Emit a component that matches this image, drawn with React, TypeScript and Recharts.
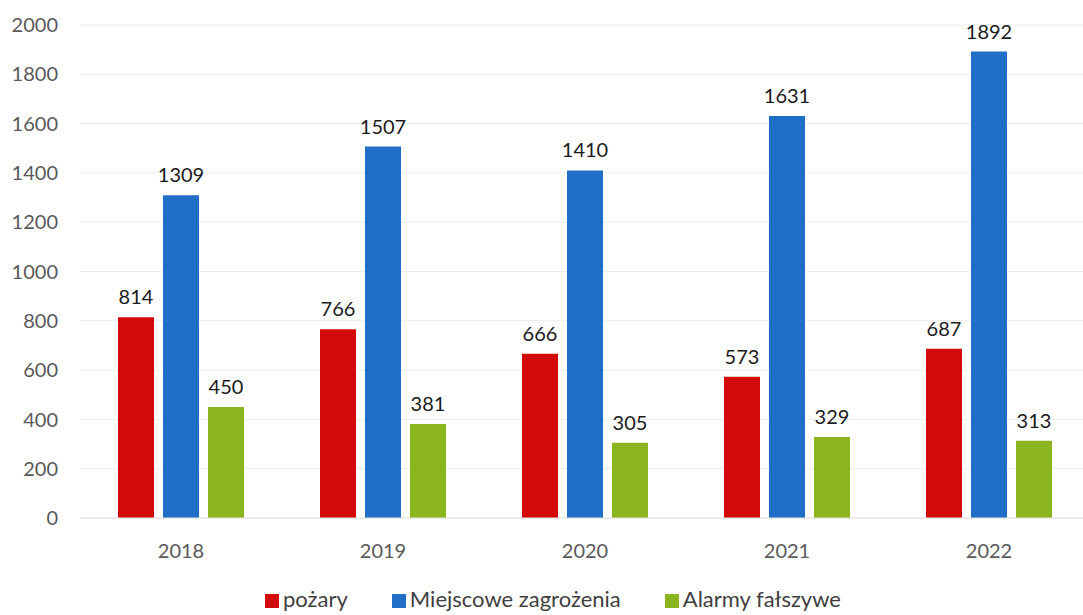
import { Bar, BarChart, CartesianGrid, LabelList, Legend, XAxis, YAxis } from 'recharts'

// lata i trzy serie zdarzeń
const years = ['2018', '2019', '2020', '2021', '2022']
const pozary = [814, 766, 666, 573, 687]
const miejscowe = [1309, 1507, 1410, 1631, 1892]
const alarmy = [450, 381, 305, 329, 313]
const yTicks = [0, 200, 400, 600, 800, 1000, 1200, 1400, 1600, 1800, 2000]
const seriesNames = ['pożary', 'Miejscowe zagrożenia', 'Alarmy fałszywe']

const data = years.map((year, i) => ({
  year,
  pozary: pozary[i],
  miejscowe: miejscowe[i],
  alarmy: alarmy[i],
}))

const FONT = 'Lato, "Open Sans", sans-serif'

export default function App() {
  return (
    <div style={{ position: 'absolute', left: 0, top: 0, width: 1083, height: 615, overflow: 'hidden', background: '#fff' }}>
      <BarChart
        width={1090}
        height={615}
        data={data}
        margin={{ top: 25, right: 0, left: 0, bottom: 0 }}
        barSize={36}
        barGap={9}
        style={{ fontFamily: FONT }}
      >
        <CartesianGrid vertical={false} stroke="#ebebeb" />
        <XAxis
          dataKey="year"
          height={67}
          axisLine={{ stroke: '#e3e3e3' }}
          tickLine={false}
          tickMargin={20}
          tick={{ fill: '#595959', fontSize: 20 }}
        />
        <YAxis
          width={80}
          domain={[0, 2000]}
          ticks={yTicks}
          axisLine={false}
          tickLine={false}
          tickSize={0}
          tickMargin={22}
          tick={{ fill: '#595959', fontSize: 20 }}
        />
        <Legend
          verticalAlign="bottom"
          height={30}
          iconType="square"
          iconSize={14}
          itemSorter={(item: any) => seriesNames.indexOf(item.value)}
          wrapperStyle={{ fontSize: 22, paddingLeft: 30 }}
          formatter={(v) => <span style={{ color: '#404040', marginRight: 34 }}>{v}</span>}
        />
        <Bar dataKey="pozary" name={seriesNames[0]} fill="#d20a0a" isAnimationActive={false}>
          <LabelList dataKey="pozary" position="top" offset={13} fill="#1a1a1a" fontSize={20} />
        </Bar>
        <Bar dataKey="miejscowe" name={seriesNames[1]} fill="#1f6fc6" isAnimationActive={false}>
          <LabelList dataKey="miejscowe" position="top" offset={13} fill="#1a1a1a" fontSize={20} />
        </Bar>
        <Bar dataKey="alarmy" name={seriesNames[2]} fill="#8cb620" isAnimationActive={false}>
          <LabelList dataKey="alarmy" position="top" offset={13} fill="#1a1a1a" fontSize={20} />
        </Bar>
      </BarChart>
    </div>
  )
}
